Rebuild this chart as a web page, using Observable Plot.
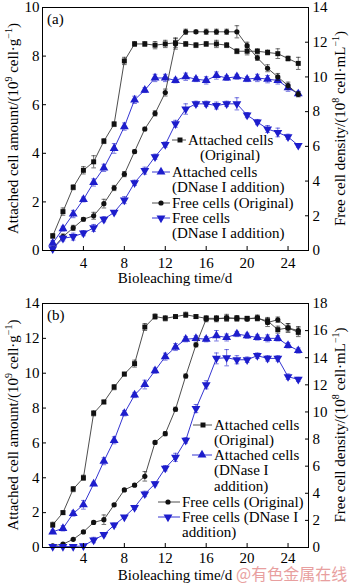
<!DOCTYPE html>
<html><head><meta charset="utf-8">
<script src="https://cdn.jsdelivr.net/npm/d3@7"></script>
<script src="https://cdn.jsdelivr.net/npm/@observablehq/plot@0.6"></script>
<style>
body{margin:0;background:#fff;}
#wrap{position:relative;width:350px;height:584px;overflow:hidden;font-family:"Liberation Serif",serif;}
#wrap svg{display:block;}
#wm{position:absolute;left:236px;top:564px;font-family:"Noto Sans CJK SC",sans-serif;font-size:16px;line-height:18px;color:#e58f8f;opacity:0.85;white-space:nowrap;}
</style></head><body><div id="wrap"></div>
<script>
// ---------- data ----------
const days = [1,2,3,4,5,6,7,8,9,10,11,12,13,14,15,16,17,18,19,20,21,22,23,24,25];
const xTicks = [4,8,12,16,20,24];
const leftTicksA = [0,2,4,6,8,10];
const rightTicksA = [0,2,4,6,8,10,12,14];
const leftTicksB = [0,2,4,6,8,10,12,14];
const rightTicksB = [0,2,4,6,8,10,12,14,16,18];

// Panel (a): attached (10^9 cell/g, left axis), free (10^8 cell/mL, right axis)
const attOrigA  = [0.6,1.6,2.6,3.3,3.65,4.5,5.2,7.8,8.5,8.5,8.45,8.5,8.55,8.5,8.45,8.5,8.5,8.45,8.2,8.2,8.2,8.15,8.1,7.9,7.7];
const attDnaA   = [0.3,0.9,1.5,2.1,2.8,3.4,4.2,5.1,6.2,6.6,7.1,7.1,7.0,7.15,7.05,7.0,7.2,7.1,7.15,7.05,7.1,7.05,7.0,6.7,6.45];
const freeOrigA = [0.1,0.8,1.3,1.8,2.0,2.7,3.6,4.4,5.7,7.0,7.9,9.1,11.9,12.6,12.6,12.6,12.6,12.6,12.6,11.8,11.1,10.5,10.0,9.5,9.0];
const freeDnaA  = [0.1,0.7,0.8,1.0,1.3,1.8,2.2,2.9,3.9,4.6,5.4,6.1,7.3,8.15,8.45,8.45,8.35,8.45,8.45,7.8,7.4,7.0,6.8,6.55,6.05];
const errAttOrigA  = [0.1,0.15,0.1,0.15,0.25,0.1,0.1,0.15,0.1,0.1,0.15,0.15,0.2,0.1,0.1,0.1,0.15,0.1,0.1,0.15,0.1,0.1,0.2,0.1,0.25];
const errAttDnaA   = [0.1,0.1,0.15,0.1,0.15,0.15,0.2,0.15,0.15,0.1,0.15,0.15,0.1,0.15,0.1,0.15,0.15,0.1,0.1,0.1,0.15,0.15,0.15,0.15,0.1];
const errFreeOrigA = [0.1,0.15,0.15,0.1,0.2,0.25,0.15,0.15,0.1,0.1,0.15,0.2,0.3,0.15,0.1,0.15,0.15,0.15,0.35,0.2,0.15,0.2,0.2,0.2,0.15];
const errFreeDnaA  = [0.05,0.15,0.2,0.15,0.2,0.15,0.1,0.2,0.15,0.2,0.15,0.15,0.2,0.3,0.15,0.15,0.2,0.15,0.35,0.15,0.15,0.2,0.25,0.15,0.1];

// Panel (b)
const attOrigB  = [1.3,2.0,3.35,4.0,7.7,8.35,9.2,9.95,10.55,12.65,13.25,13.15,13.25,13.35,13.25,13.15,13.15,13.15,13.15,13.15,13.15,13.0,12.5,12.6,12.35];
const attDnaB   = [0.9,1.1,1.95,2.45,3.65,4.95,6.15,7.7,8.75,9.35,10.15,10.95,11.5,11.95,12.0,11.95,12.15,12.05,12.25,12.15,12.05,12.0,12.0,11.6,11.3];
const freeOrigB = [0.12,0.25,0.6,1.15,1.85,2.05,3.15,4.25,4.6,5.25,7.75,8.4,10.2,12.65,14.95,16.85,16.85,16.95,16.9,16.85,16.95,16.6,16.8,16.2,16.0];
const freeDnaB  = [0.07,0.07,0.07,0.12,0.55,0.95,1.65,2.25,2.95,3.95,4.7,5.85,6.65,7.9,10.25,12.0,13.95,14.0,13.85,13.85,14.15,13.95,13.95,12.6,12.4];
const errAttOrigB  = [0.15,0.1,0.15,0.15,0.15,0.1,0.15,0.1,0.2,0.2,0.15,0.15,0.1,0.15,0.1,0.15,0.15,0.15,0.15,0.1,0.15,0.2,0.2,0.25,0.25];
const errAttDnaB   = [0.1,0.15,0.15,0.25,0.1,0.2,0.2,0.15,0.15,0.25,0.15,0.2,0.2,0.15,0.15,0.15,0.3,0.2,0.15,0.15,0.15,0.2,0.15,0.15,0.15];
const errFreeOrigB = [0.05,0.05,0.05,0.1,0.1,0.35,0.1,0.1,0.1,0.35,0.1,0.15,0.15,0.15,0.15,0.2,0.2,0.25,0.2,0.15,0.2,0.3,0.2,0.3,0.3];
const errFreeDnaB  = [0.05,0.05,0.05,0.05,0.2,0.15,0.15,0.1,0.15,0.2,0.15,0.2,0.3,0.2,0.3,0.3,0.4,0.6,0.3,0.2,0.2,0.2,0.2,0.2,0.15];

const legendA = ["Attached cells","(Original)","Attached cells","(DNase I addition)","Free cells (Original)","Free cells","(DNase I addition)"];
const legendB = ["Attached cells","(Original)","Attached cells","(DNase I","addition)","Free cells (Original)","Free cells (DNase I","addition)"];

// ---------- styling ----------
const BLACK = "#111", BLACKLINE = "#3a3a3a", BLUE = "#1d1dcc";
const FONT = "Liberation Serif";
const capSym = {draw(ctx, size){ const w = Math.sqrt(size/Math.PI); ctx.moveTo(-w,0); ctx.lineTo(w,0); }};
const triDown = {draw(ctx, size){ const s3 = Math.sqrt(3); const y = -Math.sqrt(size/(s3*3));
  ctx.moveTo(0,-y*2); ctx.lineTo(-s3*y,y); ctx.lineTo(s3*y,y); ctx.closePath(); }};
const SYM = {square:{sym:d3.symbolSquare, r:2.8}, triangle:{sym:d3.symbolTriangle, r:3.3}, circle:{sym:d3.symbolCircle, r:2.6}, tridown:{sym:triDown, r:3.3}};

function makePanel(p) {
  const k = p.leftMax / p.rightMax;
  const marks = [];
  for (const s of p.series) {
    const f = s.right ? k : 1;
    const rows = days.map((d,i) => ({day:d, y:s.values[i]*f, e:s.errors[i]*f}));
    marks.push(Plot.ruleX(rows, {x:"day", y1:d=>d.y-d.e, y2:d=>d.y+d.e, stroke:s.color, strokeWidth:0.8, strokeOpacity:0.75}));
    marks.push(Plot.dot(rows, {x:"day", y:d=>d.y+d.e, symbol:capSym, r:2.3, stroke:s.color, strokeWidth:0.8, strokeOpacity:0.75}));
    marks.push(Plot.dot(rows, {x:"day", y:d=>d.y-d.e, symbol:capSym, r:2.3, stroke:s.color, strokeWidth:0.8, strokeOpacity:0.75}));
    marks.push(Plot.line(rows, {x:"day", y:"y", stroke:s.line, strokeWidth:0.9}));
    marks.push(Plot.dot(rows, {x:"day", y:"y", symbol:SYM[s.shape].sym, r:SYM[s.shape].r, fill:s.color, stroke:"none"}));
  }
  marks.push(Plot.frame({stroke:"#000", strokeWidth:1}));
  marks.push(Plot.axisX(xTicks, {anchor:"bottom", tickSize:-4, tickPadding:p.xPad, label:null, stroke:"#000"}));
  marks.push(Plot.axisY(p.leftTicks, {anchor:"left", tickSize:-4, tickPadding:7, label:null}));
  marks.push(Plot.axisY(p.rightTicks.map(t=>t*k), {anchor:"right", tickSize:-4, tickPadding:8, label:null, tickFormat:d=>String(Math.round(d/k))}));
  const chart = Plot.plot({
    width:350, height:p.height, marginLeft:42, marginRight:42, marginTop:p.mt, marginBottom:p.mb,
    x:{domain:[0,26]}, y:{domain:[0,p.leftMax]},
    style:{fontFamily:FONT, fontSize:"15px", color:"#000", background:"#fff", overflow:"visible"},
    marks
  });
  const svg = d3.select(chart);
  const plotTop = p.mt, plotBot = p.height - p.mb, midY = (plotTop+plotBot)/2;
  // panel label
  svg.append("text").attr("x",47).attr("y",p.labelY).attr("text-anchor","start").attr("font-family",FONT).attr("font-size",15).attr("fill","#000").text(p.label);
  // axis titles
  richText(svg, 175, plotBot + p.titleDy, 0, [["Bioleaching time/d"]]);
  richText(svg, 18, midY, -90, [["Attached cell amount/(10"],["9",1],[" cell·g"],["−1",1],[")"]]);
  richText(svg, 345, midY, -90, [["Free cell density/(10"],["8",1],[" cell·mL"],["−1",1],[")"]]);
  // legend
  p.legend.forEach((row, i) => {
    const t = p.legendText[i];
    if (row.m) {
      const m = row.m;
      svg.append("line").attr("x1",m.x1).attr("x2",m.x2).attr("y1",row.y).attr("y2",row.y).attr("stroke",m.color===BLACK?BLACKLINE:m.color).attr("stroke-width",0.9);
      const sd = SYM[m.shape];
      svg.append("path").attr("d", d3.symbol(sd.sym, Math.PI*sd.r*sd.r)()).attr("transform",`translate(${m.cx},${row.y})`).attr("fill",m.color);
    }
    svg.append("text").attr("x",row.x).attr("y",row.y+5).attr("text-anchor","start").attr("font-family",FONT).attr("font-size",15).attr("fill","#000").text(t);
  });
  return chart;
}

function richText(svg, x, y, rot, parts) {
  const t = svg.append("text").attr("transform",`translate(${x},${y}) rotate(${rot})`).attr("text-anchor","middle")
    .attr("font-family",FONT).attr("font-size",15).attr("fill","#000");
  let up = false;
  for (const [s, sup] of parts) {
    const ts = t.append("tspan").text(s);
    if (sup) { ts.attr("font-size",10); if (!up) { ts.attr("dy",-6); up = true; } }
    else if (up) { ts.attr("dy",6); up = false; }
  }
}

const mk = (shape, color) => ({shape, color});
const panelA = makePanel({
  height:290, mt:7, mb:40, leftMax:10, rightMax:14, leftTicks:leftTicksA, rightTicks:rightTicksA,
  xPad:11, titleDy:33, label:"(a)", labelY:24,
  series:[
    {values:attOrigA, errors:errAttOrigA, color:BLACK, line:BLACKLINE, shape:"square"},
    {values:attDnaA, errors:errAttDnaA, color:BLUE, line:BLUE, shape:"triangle"},
    {values:freeOrigA, errors:errFreeOrigA, color:BLACK, line:BLACKLINE, shape:"circle", right:true},
    {values:freeDnaA, errors:errFreeDnaA, color:BLUE, line:BLUE, shape:"tridown", right:true}
  ],
  legendText:legendA,
  legend:[
    {x:188, y:140, m:{x1:172,x2:186,cx:180,...mk("square",BLACK)}},
    {x:200, y:155},
    {x:172, y:172, m:{x1:152,x2:170,cx:161,...mk("triangle",BLUE)}},
    {x:172, y:187},
    {x:172, y:203, m:{x1:152,x2:170,cx:161,...mk("circle",BLACK)}},
    {x:172, y:218, m:{x1:152,x2:170,cx:161,...mk("tridown",BLUE)}},
    {x:172, y:233}
  ]
});
const panelB = makePanel({
  height:294, mt:13, mb:37, leftMax:14, rightMax:18, leftTicks:leftTicksB, rightTicks:rightTicksB,
  xPad:9, titleDy:33, label:"(b)", labelY:30,
  series:[
    {values:attOrigB, errors:errAttOrigB, color:BLACK, line:BLACKLINE, shape:"square"},
    {values:attDnaB, errors:errAttDnaB, color:BLUE, line:BLUE, shape:"triangle"},
    {values:freeOrigB, errors:errFreeOrigB, color:BLACK, line:BLACKLINE, shape:"circle", right:true},
    {values:freeDnaB, errors:errFreeDnaB, color:BLUE, line:BLUE, shape:"tridown", right:true}
  ],
  legendText:legendB,
  legend:[
    {x:214, y:135, m:{x1:193,x2:212,cx:203,...mk("square",BLACK)}},
    {x:214, y:150},
    {x:214, y:165, m:{x1:192,x2:212,cx:202,...mk("triangle",BLUE)}},
    {x:214, y:180},
    {x:214, y:196},
    {x:182, y:212, m:{x1:158,x2:180,cx:168,...mk("circle",BLACK)}},
    {x:182, y:227, m:{x1:158,x2:180,cx:168,...mk("tridown",BLUE)}},
    {x:182, y:242}
  ]
});
const wrap = document.getElementById("wrap");
wrap.appendChild(panelA);
wrap.appendChild(panelB);
const wm = document.createElement("div");
wm.id = "wm"; wm.textContent = "@有色金属在线";
wrap.appendChild(wm);
</script></body></html>
